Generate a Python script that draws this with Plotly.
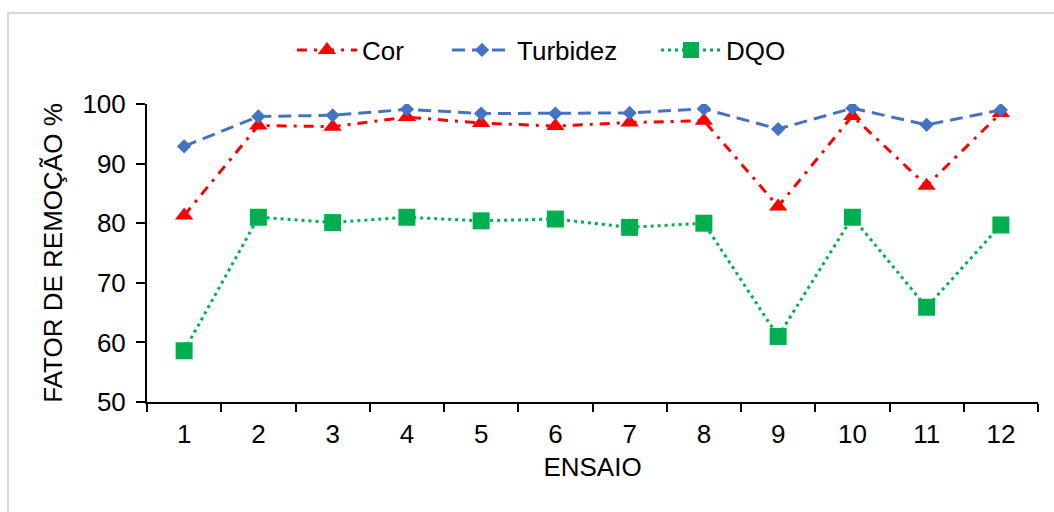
import plotly.graph_objects as go

ensaio = list(range(1, 13))
tick_labels = [str(i) for i in ensaio]
cor = [81.3, 96.4, 96.2, 97.8, 96.8, 96.3, 96.9, 97.2, 82.8, 98.0, 86.3, 98.5]
turbidez = [92.9, 97.9, 98.1, 99.1, 98.4, 98.4, 98.5, 99.2, 95.8, 99.3, 96.5, 99.0]
dqo = [58.6, 81.0, 80.1, 81.0, 80.4, 80.7, 79.3, 80.0, 61.0, 81.0, 65.9, 79.7]

font = "Liberation Sans, Arial, sans-serif"
FS = 26

fig = go.Figure()
fig.add_trace(go.Scatter(
    x=ensaio, y=cor, name="Cor", mode="lines+markers", legend="legend",
    line=dict(color="#FF0000", width=3, dash="10px,7px,3px,7px"),
    marker=dict(symbol="triangle-up", size=16, color="#FF0000"),
))
fig.add_trace(go.Scatter(
    x=ensaio, y=turbidez, name="Turbidez", mode="lines+markers", legend="legend2",
    line=dict(color="#4472C4", width=3, dash="13px,7px"),
    marker=dict(symbol="diamond", size=11, color="#4472C4"),
))
fig.add_trace(go.Scatter(
    x=ensaio, y=dqo, name="DQO", mode="lines+markers", legend="legend3",
    line=dict(color="#00B050", width=3, dash="3px,4px"),
    marker=dict(symbol="square", size=17, color="#00B050"),
))

def leg(xpix):
    return dict(orientation="h", x=xpix / 1054, xref="container", xanchor="left",
                y=1 - 50 / 512, yref="container", yanchor="middle",
                font=dict(size=FS), itemwidth=60, bgcolor="rgba(0,0,0,0)")

fig.update_layout(
    width=1054, height=512,
    margin=dict(l=147, r=16, t=104, b=110),
    paper_bgcolor="white", plot_bgcolor="white",
    font=dict(family=font, size=FS, color="black"),
    showlegend=True,
    legend=leg(292),
    legend2=leg(447),
    legend3=leg(656),
    xaxis=dict(
        range=[0.5, 12.5], tickmode="array", tickvals=ensaio, ticktext=tick_labels,
        ticks="", showgrid=False, zeroline=False,
        showline=True, linecolor="black", linewidth=2,
        minor=dict(tickmode="linear", tick0=0.5, dtick=1, ticks="outside",
                   ticklen=8, tickwidth=2, tickcolor="black", showgrid=False),
        title=dict(text="ENSAIO", font=dict(size=FS), standoff=10),
        tickfont=dict(size=FS), ticklabelstandoff=8,
    ),
    yaxis=dict(
        range=[50, 100], tickmode="linear", tick0=50, dtick=10,
        ticks="outside", ticklen=9, tickwidth=2, tickcolor="black",
        showgrid=False, zeroline=False,
        showline=True, linecolor="black", linewidth=2,
        title=dict(text="FATOR DE REMOÇÃO %", font=dict(size=FS), standoff=12),
        tickfont=dict(size=FS), ticklabelstandoff=5,
    ),
    shapes=[dict(type="rect", xref="paper", yref="paper",
                 x0=(8 - 147) / 891, x1=(1080 - 147) / 891,
                 y0=(402 - 540) / 298, y1=(402 - 13) / 298,
                 line=dict(color="#D9D9D9", width=2), layer="below")],
)

fig.write_html("out.html")
